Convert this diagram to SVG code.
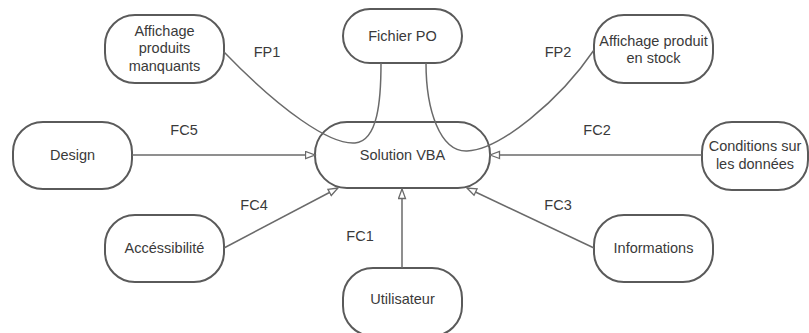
<svg xmlns="http://www.w3.org/2000/svg" width="809" height="333" viewBox="0 0 809 333">
  <defs>
    <style>
      .node rect { fill: #ffffff; stroke: #5a5a5a; stroke-width: 2; }
      .node text, .lbl { font-family: "Liberation Sans", Arial, sans-serif; font-size: 14.5px; fill: #3a3a3a; text-anchor: middle; }
      .edge { fill: none; stroke: #6a6a6a; stroke-width: 1.5; }
    </style>
    <marker id="tri" markerWidth="12" markerHeight="10" refX="10.5" refY="4.5" orient="auto" markerUnits="userSpaceOnUse">
      <path d="M1,1 L10.5,4.5 L1,8 Z" fill="#ffffff" stroke="#6a6a6a" stroke-width="1.3"/>
    </marker>
  </defs>

  <rect width="809" height="333" fill="#ffffff"/>

  <!-- nodes -->
  <g id="affichage-manquants" class="node">
    <rect x="105" y="15" width="119" height="68" rx="30"/>
    <text x="164.5" y="36">Affichage</text>
    <text x="164.5" y="53">produits</text>
    <text x="164.5" y="71">manquants</text>
  </g>

  <g id="fichier-po" class="node">
    <rect x="343" y="9" width="119" height="54" rx="27"/>
    <text x="402.5" y="41">Fichier PO</text>
  </g>

  <g id="affichage-stock" class="node">
    <rect x="594" y="15" width="119" height="68" rx="30"/>
    <text x="653.5" y="46">Affichage produit</text>
    <text x="653.5" y="63">en stock</text>
  </g>

  <g id="design" class="node">
    <rect x="13" y="122" width="119" height="67" rx="30"/>
    <text x="72.5" y="160">Design</text>
  </g>

  <g id="solution-vba" class="node">
    <rect x="315" y="122" width="175" height="66" rx="32"/>
    <text x="402.5" y="160">Solution VBA</text>
  </g>

  <g id="conditions" class="node">
    <rect x="702" y="122" width="106" height="68" rx="30"/>
    <text x="755" y="151">Conditions sur</text>
    <text x="755" y="169">les données</text>
  </g>

  <g id="accessibilite" class="node">
    <rect x="105" y="215" width="119" height="67" rx="30"/>
    <text x="164.5" y="253">Accéssibilité</text>
  </g>

  <g id="informations" class="node">
    <rect x="594" y="215" width="119" height="67" rx="30"/>
    <text x="653.5" y="253">Informations</text>
  </g>

  <g id="utilisateur" class="node">
    <rect x="343" y="268" width="119" height="68" rx="30"/>
    <text x="402.5" y="304">Utilisateur</text>
  </g>

  <!-- connectors, drawn over the nodes so the FP curves show inside Solution VBA -->
  <g id="connectors">
    <path class="edge" d="M224,52 C280,110 330,145 355,143 C378,141 381,100 381,63"/>
    <path class="edge" d="M426,63 C426,110 440,152 467,151 C500,150 560,100 594,50"/>
    <path class="edge" d="M132,155 L315,155" marker-end="url(#tri)"/>
    <path class="edge" d="M702,155 L490,155" marker-end="url(#tri)"/>
    <path class="edge" d="M224,248 L338,188" marker-end="url(#tri)"/>
    <path class="edge" d="M594,248 L467,188" marker-end="url(#tri)"/>
    <path class="edge" d="M402,268 L402,189" marker-end="url(#tri)"/>
  </g>

  <!-- connector labels -->
  <g id="labels">
    <text class="lbl" x="267" y="57">FP1</text>
    <text class="lbl" x="558" y="57">FP2</text>
    <text class="lbl" x="184" y="135">FC5</text>
    <text class="lbl" x="597" y="135">FC2</text>
    <text class="lbl" x="254" y="210">FC4</text>
    <text class="lbl" x="558" y="210">FC3</text>
    <text class="lbl" x="360" y="241">FC1</text>
  </g>
</svg>
